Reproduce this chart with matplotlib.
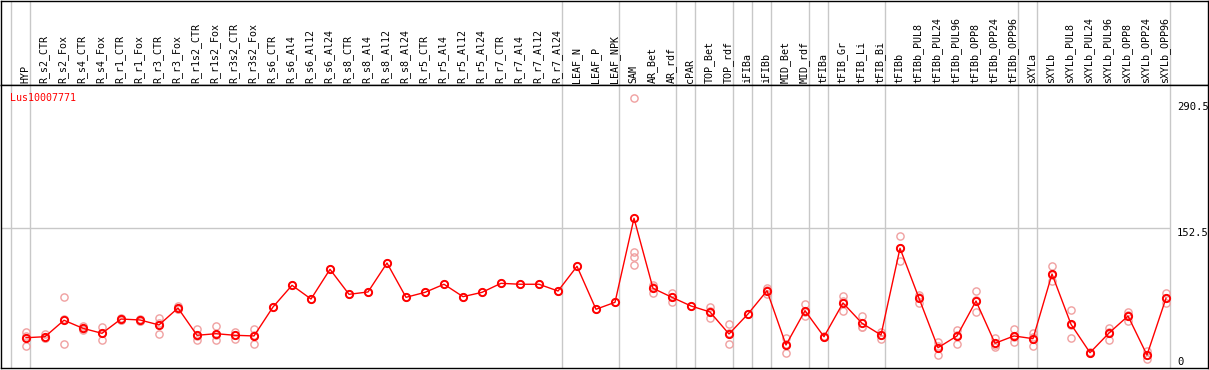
import numpy as np
import matplotlib
matplotlib.use("Agg")
import matplotlib.pyplot as plt

# categories (conditions) across the top
categories = [
    "HYP", "R_s2_CTR", "R_s2_Fox", "R_s4_CTR", "R_s4_Fox", "R_r1_CTR", "R_r1_Fox",
    "R_r3_CTR", "R_r3_Fox", "R_r1s2_CTR", "R_r1s2_Fox", "R_r3s2_CTR", "R_r3s2_Fox",
    "R_s6_CTR", "R_s6_Al4", "R_s6_Al12", "R_s6_Al24", "R_s8_CTR", "R_s8_Al4",
    "R_s8_Al12", "R_s8_Al24", "R_r5_CTR", "R_r5_Al4", "R_r5_Al12", "R_r5_Al24",
    "R_r7_CTR", "R_r7_Al4", "R_r7_Al12", "R_r7_Al24", "LEAF_N", "LEAF_P", "LEAF_NPK",
    "SAM", "AR_Bet", "AR_rdf", "cPAR", "TOP_Bet", "TOP_rdf", "iFIBa", "iFIBb",
    "MID_Bet", "MID_rdf", "tFIBa", "tFIB_Gr", "tFIB_Li", "tFIB_Bi", "tFIBb",
    "tFIBb_PUL8", "tFIBb_PUL24", "tFIBb_PUL96", "tFIBb_OPP8", "tFIBb_OPP24",
    "tFIBb_OPP96", "sXYLa", "sXYLb", "sXYLb_PUL8", "sXYLb_PUL24", "sXYLb_PUL96",
    "sXYLb_OPP8", "sXYLb_OPP24", "sXYLb_OPP96",
]

# mean expression per category
mean_values = [
    35.7, 36.8, 54.3, 45.7, 40.4, 55.6, 54.6, 49.3, 67.3, 38.3,
    40.0, 38.3, 37.6, 68.4, 91.5, 76.9, 108.5, 81.9, 84.4, 115.2,
    78.7, 84.0, 92.6, 79.4, 84.0, 93.6, 92.6, 92.6, 85.4, 111.7,
    66.0, 73.4, 162.8, 88.3, 78.7, 69.5, 63.1, 39.7, 61.0, 85.7,
    28.0, 64.5, 36.8, 72.7, 51.1, 38.6, 130.9, 77.7, 25.1, 37.6,
    74.8, 29.8, 37.6, 34.7, 103.5, 50.0, 19.8, 40.7, 58.8, 17.3,
    77.7,
]

# individual replicates
replicates = [
    [42.1, 27.2, 37.8], [39.7, 35.5, 35.2], [78.7, 28.7, 55.5], [48.2, 45.0, 44.0],
    [47.1, 33.6, 40.5], [57.0, 55.0, 54.8], [56.0, 54.0, 53.8], [56.4, 40.0, 51.5],
    [69.0, 66.5, 66.4], [44.7, 33.0, 37.2], [48.2, 33.0, 38.8], [41.8, 34.7, 38.4],
    [44.7, 29.4, 38.7], [68.4], [91.5], [76.9], [108.5], [81.9], [84.4], [115.2],
    [78.7], [84.0], [92.6], [79.4], [84.0], [93.6], [92.6], [92.6], [85.4], [111.7],
    [66.0], [73.4], [290.5, 126.6, 121.9, 113.1], [91.8, 83.6, 89.5],
    [83.6, 73.7, 78.8], [69.5], [68.7, 56.4, 64.2], [50.0, 28.7, 40.4], [61.0],
    [88.9, 81.9, 86.3], [35.1, 19.8, 29.1], [71.6, 58.8, 63.1], [37.5, 36.2],
    [79.8, 63.8, 74.5], [58.5, 47.4, 47.4], [42.1, 34.7, 39.0], [143.9, 117.7, 131.1],
    [81.2, 73.0, 78.9], [31.2, 17.3, 26.8], [44.3, 29.4, 39.1], [85.4, 62.8, 76.2],
    [35.1, 25.9, 28.4], [45.0, 30.9, 36.9], [40.7, 26.6, 36.8], [112.3, 95.7, 102.5],
    [64.9, 35.4, 49.7], [20.5, 19.1], [46.4, 33.6, 42.1], [63.1, 53.2, 60.1],
    [21.3, 13.4, 17.2], [83.0, 72.3, 77.8],
]

# groups end after these category indices
group_ends = [-1, 0, 28, 31, 34, 35, 37, 38, 39, 41, 42, 45, 52, 53, 60]

gene_id = "Lus10007771"

W, H = 1209, 370
fig = plt.figure(figsize=(W / 100, H / 100), dpi=100)

def box(x0, y0, x1, y1):
    # pixel box (top-left origin) -> figure fraction
    return [x0 / W, 1 - y1 / H, (x1 - x0) / W, (y1 - y0) / H]

x = np.arange(len(categories))
xlim = ((1 - 26) / 19, (1208 - 26) / 19)

ax_h = fig.add_axes(box(1, 0.5, 1208, 85))
ax = fig.add_axes(box(1, 85, 1208, 368))

grey = "#c8c8c8"
for a in (ax_h, ax):
    a.set_xlim(*xlim)
    a.set_xticks([])
    a.set_yticks([])
    for s in a.spines.values():
        s.set_color("black")
        s.set_linewidth(1.0)
    for g in group_ends:
        a.axvline(g + 0.23, color=grey, lw=1.0, zorder=1)

ax_h.set_ylim(0, 1)
for i, lab in enumerate(categories):
    ax_h.text(i - 0.05, 2 / 85, lab, rotation=90, ha="center", va="bottom",
              family="DejaVu Sans Mono", fontsize=7.2,
              transform=ax_h.get_xaxis_transform())

ax.set_ylim(3.5, 304.6)
ax.hlines(152.5, xlim[0], group_ends[-1] + 0.23, color=grey, lw=1.0, zorder=1)

for i, reps in enumerate(replicates):
    ax.plot([i] * len(reps), reps, linestyle="none", marker="o", ms=5.2,
            mfc="none", mec="#f0a0a0", mew=1.0, zorder=2)

ax.plot(x, mean_values, color="red", lw=1.0, marker="o", ms=5.2,
        mfc="none", mec="red", mew=1.4, zorder=3)

ax.text(9 / 1207, 1 - 13 / 283, gene_id, color="red", transform=ax.transAxes,
        family="DejaVu Sans Mono", fontsize=7.2, ha="left", va="center")

for val, ytop in [("290.5", 102), ("152.5", 227.5), ("0", 357)]:
    fig.text(1177 / W, 1 - ytop / H, val, family="DejaVu Sans Mono",
             fontsize=7.6, ha="left", va="top")

fig.savefig("out.png", dpi=100)
